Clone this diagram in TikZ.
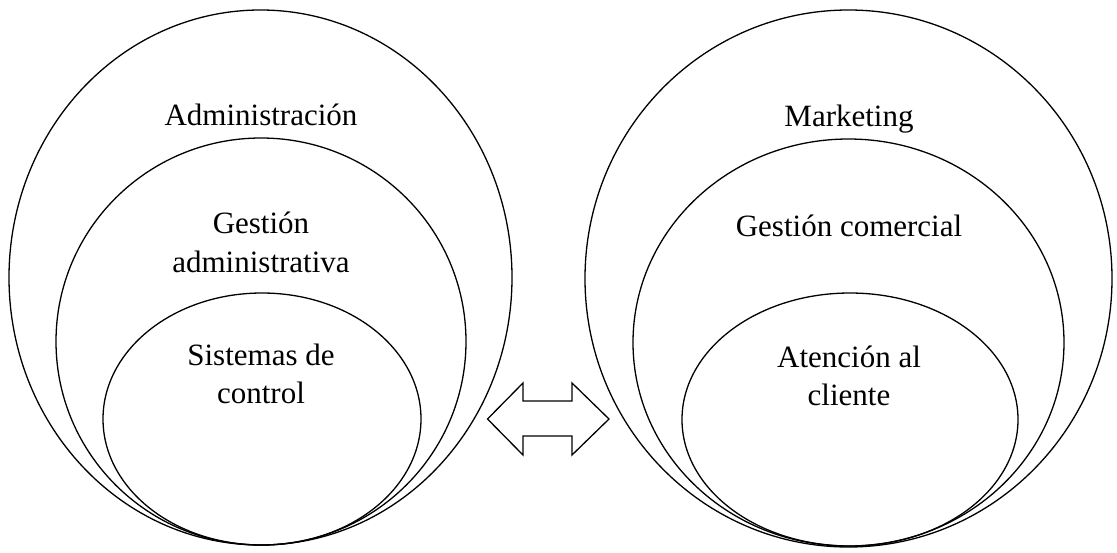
\documentclass[tikz,border=0pt]{standalone}
\usepackage{fontspec}
\setmainfont{Liberation Serif}
\begin{document}
\begin{tikzpicture}[x=1pt,y=-1pt,
  ring/.style={draw=black, line width=1.3pt},
  lbl/.style={font=\fontsize{31}{38}\selectfont, anchor=base, inner sep=0pt}]
\useasboundingbox (0,0) rectangle (1117,552);
% left group
\draw[ring] (260.5,277.5) ellipse [x radius=251.5pt, y radius=267.5pt];
\draw[ring] (261,341.5) ellipse [x radius=205pt, y radius=203.5pt];
\draw[ring] (262,419) ellipse [x radius=159pt, y radius=126pt];
% right group
\draw[ring] (848.5,278.5) ellipse [x radius=263.5pt, y radius=268.5pt];
\draw[ring] (848.5,342.5) ellipse [x radius=215.5pt, y radius=203.5pt];
\draw[ring] (850,419.5) ellipse [x radius=168pt, y radius=126.5pt];
% double arrow
\draw[ring, line join=miter] (487.5,419) -- (523,383) -- (523,401) -- (572,401) -- (572,383)
  -- (609,419) -- (572,455) -- (572,436) -- (523,436) -- (523,455) -- cycle;
% labels
\node[lbl] (adm) at (261,125.5) {Administración};
\node[lbl] (ga1) at (261,233) {Gestión};
\node[lbl] (ga2) at (261,272) {administrativa};
\node[lbl] (sc1) at (261,365) {Sistemas de};
\node[lbl] (sc2) at (261,403.5) {control};
\node[lbl] (mkt) at (849,126) {Marketing};
\node[lbl] (gc) at (849,236) {Gestión comercial};
\node[lbl] (ac1) at (849,367) {Atención al};
\node[lbl] (ac2) at (849,405) {cliente};
\end{tikzpicture}
\end{document}
